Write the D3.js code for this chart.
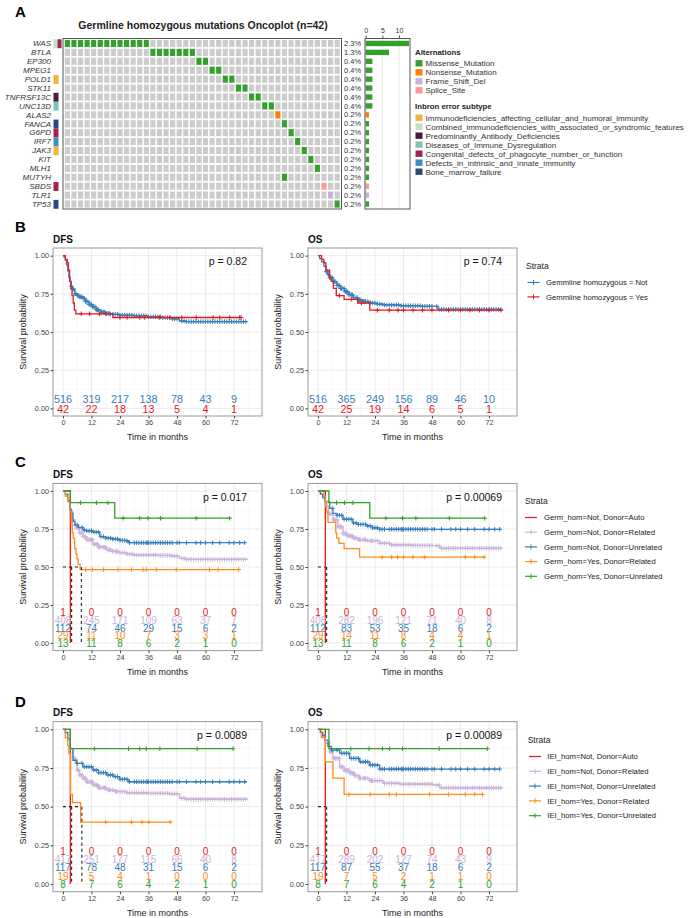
<!DOCTYPE html>
<html>
<head>
<meta charset="utf-8">
<script src="https://cdn.jsdelivr.net/npm/d3@7"></script>
<style>
body{margin:0;background:#fff}
text{font-family:"Liberation Sans",Arial,sans-serif}
</style>
</head>
<body>
<div id="chart"></div>
<script>
var w = 692
var h = 918

var svg = d3.select("#chart")
    .append("svg")
    .attr("width", w)
    .attr("height", h)

//oncoplot data

var genes = ["WAS","BTLA","EP300","MPEG1","POLD1","STK11","TNFRSF13C","UNC13D","ALAS2","FANCA","G6PD","IRF7","JAK3","KIT","MLH1","MUTYH","SBDS","TLR1","TP53"]
var genePct = ["2.3%","1.3%","0.4%","0.4%","0.4%","0.4%","0.4%","0.4%","0.2%","0.2%","0.2%","0.2%","0.2%","0.2%","0.2%","0.2%","0.2%","0.2%","0.2%"]
var geneCount = [13,7,2,2,2,2,2,2,1,1,1,1,1,1,1,1,1,1,1]
var geneType = ["Missense_Mutation","Missense_Mutation","Missense_Mutation","Missense_Mutation","Missense_Mutation","Missense_Mutation","Missense_Mutation","Missense_Mutation","Nonsense_Mutation","Missense_Mutation","Missense_Mutation","Missense_Mutation","Missense_Mutation","Missense_Mutation","Missense_Mutation","Missense_Mutation","Splice_Site","Frame_Shift_Del","Missense_Mutation"]
var geneSamples = [[0,1,2,3,4,5,6,7,8,9,10,11,12],[13,14,15,16,17,18,19],[20,21],[22,23],[24,25],[26,27],[28,29],[30,31],[32],[33],[34],[35],[36],[37],[38],[33],[39],[40],[41]]
var nSamples = 42
var geneSubtype = [
    ["Combined_immunodeficiencies_with_associated_or_syndromic_features","Congenital_defects_of_phagocyte_number_or_function"],
    [],[],[],
    ["Immunodeficiencies_affecting_cellular_and_humoral_immunity"],
    [],
    ["Predominantly_Antibody_Deficiencies"],
    ["Diseases_of_Immune_Dysregulation"],
    [],
    ["Bone_marrow_failure"],
    ["Congenital_defects_of_phagocyte_number_or_function"],
    ["Defects_in_intrinsic_and_innate_immunity"],
    ["Immunodeficiencies_affecting_cellular_and_humoral_immunity"],
    [],[],[],
    ["Congenital_defects_of_phagocyte_number_or_function"],
    [],
    ["Bone_marrow_failure"]]

var altTypes = ["Missense_Mutation","Nonsense_Mutation","Frame_Shift_Del","Splice_Site"]
var altColors = ["#33A02C","#FF7F00","#CAB2D6","#FB9A99"]
var ieiTypes = ["Immunodeficiencies_affecting_cellular_and_humoral_immunity","Combined_immunodeficiencies_with_associated_or_syndromic_features","Predominantly_Antibody_Deficiencies","Diseases_of_Immune_Dysregulation","Congenital_defects_of_phagocyte_number_or_function","Defects_in_intrinsic_and_innate_immunity","Bone_marrow_failure"]
var ieiColors = ["#F2B43A","#C4E0C4","#4A1C3E","#7DC6B6","#A3224A","#3D8EB9","#2B4A7B"]
var barTicks = [0,5,10]

//survival data: step points [month, survival] and censor times

var xTicks = [0,12,24,36,48,60,72]
var yTicks = [0,0.25,0.5,0.75,1]

var bDfsNot = [[0,1],[0.5,0.99],[1,0.97],[1.5,0.94],[2,0.9],[2.5,0.86],[3,0.83],[3.5,0.8],[4,0.78],[5,0.75],[6,0.74],[7,0.73],[8.4,0.72],[9.5,0.7],[11,0.68],[12.5,0.665],[14,0.645],[16,0.63],[18,0.622],[19.7,0.616],[24,0.61],[30,0.606],[36,0.6],[42,0.594],[46,0.586],[49,0.572],[52,0.568],[77,0.568]]
var bDfsYes = [[0,1],[1,0.976],[1.8,0.952],[2.3,0.905],[2.8,0.833],[3.3,0.786],[3.8,0.738],[4.3,0.69],[4.8,0.643],[5.4,0.619],[21,0.595],[75,0.595]]
var bOsNot = [[0,1],[0.7,0.98],[1.5,0.96],[2.5,0.93],[3.5,0.895],[4.2,0.874],[5,0.855],[6.3,0.83],[8,0.805],[9.5,0.785],[11.2,0.764],[13,0.745],[15,0.725],[16.8,0.71],[19,0.7],[22,0.69],[25,0.682],[27.4,0.677],[35,0.672],[44,0.668],[50.5,0.648],[77,0.648]]
var bOsYes = [[0,1],[1.5,0.976],[2.5,0.952],[3.3,0.905],[4.9,0.857],[5.5,0.833],[6.5,0.786],[7.7,0.738],[11,0.714],[16.7,0.69],[21.8,0.643],[77,0.643]]
var bCensNot = [3.5,4,4.5,5,5.5,6,6.5,7,7.5,8,8.5,9,9.5,10,10.5,11,11.5,12,12.5,13,13.5,14,14.5,15,16,16.5,17,17.5,18,19,19.5,20,21,22,23,24,25,26,27,28,29,30,31,32,33,34,35,36,37,38,39,40,41,42,43,44,45,46,47,48,50,51,52,53,54,55,56,57,58,59,60,61,62,63,64,65,66,67,68,69,70,71,72,73,74,75,76,77]
var bCensDfsYes = [7.7,11.2,15.4,18.2,24,27,32.3,34.4,40.7,45,50,56.1,63.2,66,70.2,74.4,75]
var bCensOsYes = [9,14,18.3,25,30,33.7,36,40,44,48,55,60,64,68,72,77]

var auto = [[0,1],[3.1,0]]
var cDfsNotRel = [[0,1],[1,0.975],[2,0.93],[3,0.87],[4,0.81],[5,0.775],[5.6,0.755],[7,0.725],[8.4,0.7],[10,0.68],[12.6,0.65],[15,0.63],[18.3,0.612],[21,0.602],[23.9,0.594],[27,0.585],[29.5,0.579],[40,0.576],[46,0.572],[49,0.557],[52,0.55],[77,0.55]]
var cDfsNotUnrel = [[0,1],[1,0.98],[2,0.94],[3,0.88],[3.5,0.855],[4.2,0.8],[5,0.775],[6.5,0.76],[8.4,0.743],[10,0.738],[12.6,0.73],[15.5,0.7],[18,0.69],[21,0.684],[24,0.675],[26.7,0.671],[27.5,0.66],[76.5,0.66]]
var cDfsYesRel = [[0,1],[1,0.966],[2,0.931],[3,0.862],[3.5,0.793],[3.9,0.724],[4.3,0.69],[4.9,0.621],[5.5,0.586],[5.9,0.552],[6.4,0.517],[7.2,0.483],[74,0.483]]
var cDfsYesUnrel = [[0,1],[3.1,0.923],[21.8,0.821],[70.2,0.821]]
var cOsNotRel = [[0,1],[1,0.98],[2,0.95],[3,0.9],[4.5,0.85],[6.3,0.81],[8.4,0.765],[10.5,0.72],[12.5,0.705],[14.7,0.69],[17,0.68],[20.4,0.673],[26,0.656],[30.2,0.645],[40,0.642],[48.5,0.64],[51.3,0.623],[77,0.623]]
var cOsNotUnrel = [[0,1],[1,0.98],[2,0.96],[3,0.93],[4.9,0.886],[6.3,0.853],[8,0.84],[10.5,0.814],[14.7,0.79],[17,0.78],[20.4,0.77],[23,0.758],[26,0.748],[77,0.748]]
var cOsYesRel = [[0,1],[2.5,0.966],[3.2,0.931],[3.7,0.862],[4.2,0.793],[7.5,0.724],[7.9,0.69],[8.8,0.655],[11,0.621],[17.5,0.565],[70,0.565]]
var cOsYesUnrel = [[0,1],[4.6,0.923],[21.8,0.821],[70.2,0.821]]

var dDfsNotRel = [[0,1],[1,0.975],[2,0.93],[3,0.87],[4.2,0.82],[4.9,0.8],[5.9,0.737],[7,0.705],[8.4,0.683],[10,0.66],[12.6,0.64],[15,0.622],[18.3,0.608],[22,0.598],[26.7,0.59],[35.1,0.586],[45,0.583],[49.1,0.554],[52,0.548],[77.5,0.548]]
var dDfsNotUnrel = [[0,1],[1,0.98],[2,0.94],[3.1,0.877],[4.2,0.8],[5.6,0.78],[8.4,0.758],[12.6,0.737],[15,0.72],[18.3,0.705],[21.1,0.694],[23.9,0.677],[27.4,0.661],[77.5,0.661]]
var dDfsYesRel = [[0,1],[1,0.947],[2,0.895],[2.5,0.842],[3.2,0.579],[4,0.526],[7.4,0.4],[45.2,0.4]]
var dDfsYesUnrel = [[0,1],[3.1,0.875],[71.6,0.875]]
var dOsNotRel = [[0,1],[1,0.98],[2,0.95],[3,0.91],[4.9,0.855],[6.3,0.812],[9.1,0.758],[11,0.735],[13.3,0.716],[15.5,0.7],[17.5,0.683],[21.8,0.668],[27.4,0.651],[34.4,0.646],[48.5,0.64],[51.3,0.622],[77.5,0.622]]
var dOsNotUnrel = [[0,1],[1,0.98],[2,0.96],[3,0.93],[4.2,0.89],[5.6,0.866],[9.1,0.845],[13.3,0.812],[17.5,0.79],[21.8,0.769],[26,0.743],[76.5,0.743]]
var dOsYesRel = [[0,1],[1.4,0.947],[3.1,0.789],[6.3,0.684],[11,0.579],[69.2,0.579]]
var dOsYesUnrel = [[0,1],[4.6,0.875],[71.3,0.875]]

var censNotRel = [4.5,5,5.5,6,6.5,7,7.5,8,8.5,9,9.5,10,10.5,11,11.5,12,12.5,13,13.5,14,14.5,15,15.5,16,17,17.5,18,19,19.5,20,21,22,22.5,23,24,25,26,27,28,29,30,31,32,33,34,35,36,37,38,39,40,41,42,43,44,45,46,47,48,50,51,52,53,54,55,56,57,58,59,60,61,62,63,64,65,66,67,68,69,70,71,72,73,74,75,76,77]
var censNotUnrel = [6,8,9,10,11,12,13,14,15,16,17,18,19,20,21,22,23,24,25,26,27,28,30,31,32,33,34,35,35.5,36,37,38,39,40,41,42,43,44,45,46,48,49,52,56,58,60,63,66,70,72,74.4,76.5]
var censYesRel = [9.6,12.4,17.1,23.2,28.8,33.7,35.1,39.3,47.7,61.7,65.3,74]
var censYesUnrel = [7.4,14.1,18.9,25.3,32.3,35.8,41.1,56.1,70.2]
var censOsYesRel = [27,31,33.5,36,40,45,62,66,70]
var censOsYesUnrel = [7.8,11.2,14.7,28.6,35.6,41.2,55.3,70.2]
var censDYesRel = [18,28.8,33.3,36.2,45.2]
var censDYesUnrel = [13.3,27.6,32.3,35.1,40.8,56.5,71.6]
var censDOsYesRel = [13,22,30,33,47,55,62,66,69.2]
var censDOsYesUnrel = [13.8,21.5,27.2,30.1,35.6,51,71.3]

var bDfsRisk = [[516,319,217,138,78,43,9],[42,22,18,13,5,4,1]]
var bOsRisk = [[516,365,249,156,89,46,10],[42,25,19,14,6,5,1]]
var cDfsRisk = [[1,0,0,0,0,0,0],[408,245,171,109,63,37,7],[112,74,46,29,15,6,2],[29,11,10,7,3,3,1],[13,11,8,6,2,1,0]]
var cOsRisk = [[1,0,0,0,0,0,0],[408,282,196,121,71,40,8],[112,83,53,35,18,6,2],[29,14,11,8,4,4,1],[13,11,8,6,2,1,0]]
var dDfsRisk = [[1,0,0,0,0,0,0],[417,251,177,115,66,40,8],[117,78,48,31,15,6,2],[19,5,4,1,0,0,0],[8,7,6,4,2,1,0]]
var dOsRisk = [[1,0,0,0,0,0,0],[417,289,202,127,74,43,9],[117,87,55,37,18,6,2],[19,7,5,2,1,1,0],[8,7,6,4,2,1,0]]

var bLabels = ["Gemmline homozygous = Not","Gemmline homozygous = Yes"]
var cLabels = ["Germ_hom=Not, Donor=Auto","Germ_hom=Not, Donor=Related","Germ_hom=Not, Donor=Unrelated","Germ_hom=Yes, Donor=Related","Germ_hom=Yes, Donor=Unrelated"]
var dLabels = ["IEI_hom=Not, Donor=Auto","IEI_hom=Not, Donor=Related","IEI_hom=Not, Donor=Unrelated","IEI_hom=Yes, Donor=Related","IEI_hom=Yes, Donor=Unrelated"]

var red = "#E41A1C", lav = "#C9B3DA", blue = "#377EB8", orange = "#FF8C1A", green = "#33A02C"

//panel A - oncoplot

drawOncoplot()

function drawOncoplot(){
    var gridLeft = 64, gridRight = 340.5, gridTop = 39, gridBottom = 208.5

    var xCol = d3.scaleBand().domain(d3.range(nSamples)).range([gridLeft, gridRight]).paddingInner(0.22).paddingOuter(0.12)
    var yRow = d3.scaleBand().domain(genes).range([gridTop, gridBottom]).paddingInner(0.2).paddingOuter(0.1)
    var altColor = d3.scaleOrdinal().domain(altTypes).range(altColors)
    var ieiColor = d3.scaleOrdinal().domain(ieiTypes).range(ieiColors)

    svg.append("text").attr("x", 15).attr("y", 17).text("A")
        .attr("font-size", 15).attr("font-weight", "bold")

    svg.append("text").attr("x", 203).attr("y", 28.5).text("Germline homozygous mutations Oncoplot (n=42)")
        .attr("font-size", 10.5).attr("font-weight", "bold").attr("text-anchor", "middle").attr("fill", "#222")

    var rows = svg.selectAll(".orow")
        .data(genes)
        .enter()
        .append("g")
        .attr("class", "orow")

    rows.selectAll("rect")
        .data(function(d, i){
            return d3.range(nSamples).map(function(s){
                return {gene: d, s: s, type: geneSamples[i].indexOf(s) >= 0 ? geneType[i] : null}
            })
        })
        .enter()
        .append("rect")
        .attr("x", function(d){ return xCol(d.s) })
        .attr("y", function(d){ return yRow(d.gene) })
        .attr("width", xCol.bandwidth())
        .attr("height", yRow.bandwidth())
        .attr("fill", function(d){ return d.type ? altColor(d.type) : "#CCCCCC" })

    svg.append("rect")
        .attr("x", gridLeft - 1).attr("y", gridTop - 0.5)
        .attr("width", gridRight - gridLeft + 2).attr("height", gridBottom - gridTop + 1)
        .attr("fill", "none").attr("stroke", "#555").attr("stroke-width", 1)

    //gene names
    svg.selectAll(".gname")
        .data(genes)
        .enter()
        .append("text")
        .attr("class", "gname")
        .attr("x", 51)
        .attr("y", function(d){ return yRow(d) + yRow.bandwidth()/2 })
        .attr("dy", "0.35em")
        .attr("text-anchor", "end")
        .attr("font-size", 8)
        .attr("font-style", "italic")
        .attr("fill", "#333")
        .text(function(d){ return d })

    //subtype annotation
    genes.forEach(function(g, i){
        var subs = geneSubtype[i]
        subs.forEach(function(s, k){
            svg.append("rect")
                .attr("x", subs.length > 1 ? 53.5 + k*4 : 53.5)
                .attr("y", yRow(g) - 0.6)
                .attr("width", subs.length > 1 ? 4 : 5)
                .attr("height", yRow.step())
                .attr("fill", ieiColor(s))
        })
    })

    //percent labels
    svg.selectAll(".gpct")
        .data(genePct)
        .enter()
        .append("text")
        .attr("x", 344)
        .attr("y", function(d, i){ return yRow(genes[i]) + yRow.bandwidth()/2 })
        .attr("dy", "0.35em")
        .attr("font-size", 7.5)
        .attr("fill", "#333")
        .text(function(d){ return d })

    //side bar plot
    var xBar = d3.scaleLinear().domain([0, 13.3]).range([365.7, 410])
    svg.selectAll(".bgrid")
        .data(barTicks)
        .enter()
        .append("line")
        .attr("x1", function(d){ return xBar(d) }).attr("x2", function(d){ return xBar(d) })
        .attr("y1", gridTop).attr("y2", gridBottom)
        .attr("stroke", "#DDD").attr("stroke-width", 0.7)

    svg.selectAll(".gbar")
        .data(geneCount)
        .enter()
        .append("rect")
        .attr("x", xBar(0))
        .attr("y", function(d, i){ return yRow(genes[i]) + yRow.bandwidth()*0.12 })
        .attr("width", function(d){ return xBar(d) - xBar(0) })
        .attr("height", yRow.bandwidth()*0.76)
        .attr("fill", function(d, i){ return altColor(geneType[i]) })

    svg.append("rect")
        .attr("x", 365).attr("y", gridTop - 0.5)
        .attr("width", 45).attr("height", gridBottom - gridTop + 1)
        .attr("fill", "none").attr("stroke", "#555").attr("stroke-width", 1)

    var barAxis = svg.append("g")
        .attr("transform", "translate(0," + (gridTop - 1) + ")")
        .call(d3.axisTop(xBar).tickValues(barTicks).tickSize(2.5))
    barAxis.select(".domain").remove()
    barAxis.selectAll("text").attr("font-size", 7).attr("fill", "#333").attr("font-family", "Liberation Sans")
    barAxis.selectAll("line").attr("stroke", "#555")

    //legends
    svg.append("text").attr("x", 415).attr("y", 54.5).text("Alternations")
        .attr("font-size", 7.8).attr("font-weight", "bold").attr("fill", "#222")
    altTypes.forEach(function(t, i){
        var yy = 63.3 + i*9
        svg.append("rect").attr("x", 415.5).attr("y", yy - 3.2).attr("width", 7).attr("height", 6.4).attr("fill", altColor(t))
        svg.append("text").attr("x", 425.5).attr("y", yy).attr("dy", "0.35em").text(t)
            .attr("font-size", 8).attr("fill", "#333")
    })
    svg.append("text").attr("x", 415).attr("y", 108.8).text("Inbron error subtype")
        .attr("font-size", 7.8).attr("font-weight", "bold").attr("fill", "#222")
    ieiTypes.forEach(function(t, i){
        var yy = 117.7 + i*9
        svg.append("rect").attr("x", 415.5).attr("y", yy - 3.2).attr("width", 7).attr("height", 6.4).attr("fill", ieiColor(t))
        svg.append("text").attr("x", 425.5).attr("y", yy).attr("dy", "0.35em").text(t)
            .attr("font-size", 8).attr("fill", "#333")
    })
}

//KM panels

function survAt(data, t){
    var s = data[0][1]
    data.forEach(function(p){ if(p[0] <= t) s = p[1] })
    return s
}

function drawKM(left, top, height, title, curves, risk, rowStep, riskSize, pText){
    var x = d3.scaleLinear().domain([-4.2, 83.8]).range([left, left + 209])
    var y = d3.scaleLinear().domain([-0.05, 1.05]).range([top + height, top])
    var g = svg.append("g")

    //grid
    g.selectAll(".mx").data([6,18,30,42,54,66,78]).enter().append("line")
        .attr("x1", function(d){ return x(d) }).attr("x2", function(d){ return x(d) })
        .attr("y1", top).attr("y2", top + height)
        .attr("stroke", "#F2F2F2").attr("stroke-width", 0.6)
    g.selectAll(".my").data([0.125,0.375,0.625,0.875]).enter().append("line")
        .attr("y1", function(d){ return y(d) }).attr("y2", function(d){ return y(d) })
        .attr("x1", left).attr("x2", left + 209)
        .attr("stroke", "#F2F2F2").attr("stroke-width", 0.6)
    g.selectAll(".gx").data(xTicks).enter().append("line")
        .attr("x1", function(d){ return x(d) }).attr("x2", function(d){ return x(d) })
        .attr("y1", top).attr("y2", top + height)
        .attr("stroke", "#E8E8E8").attr("stroke-width", 0.9)
    g.selectAll(".gy").data(yTicks).enter().append("line")
        .attr("y1", function(d){ return y(d) }).attr("y2", function(d){ return y(d) })
        .attr("x1", left).attr("x2", left + 209)
        .attr("stroke", "#E8E8E8").attr("stroke-width", 0.9)

    var line = d3.line()
        .x(function(d){ return x(d[0]) })
        .y(function(d){ return y(d[1]) })
        .curve(d3.curveStepAfter)

    curves.forEach(function(c){
        g.append("path")
            .attr("d", line(c.data))
            .attr("fill", "none")
            .attr("stroke", c.color)
            .attr("stroke-width", 1.3)
        var end = c.data[c.data.length - 1][0]
        c.cens.filter(function(t){ return t <= end }).forEach(function(t){
            var cx = x(t), cy = y(survAt(c.data, t))
            g.append("path")
                .attr("d", "M" + (cx - 2.3) + "," + cy + "H" + (cx + 2.3) + "M" + cx + "," + (cy - 2.3) + "V" + (cy + 2.3))
                .attr("stroke", c.color)
                .attr("stroke-width", 1)
        })
    })

    //median lines
    var medians = []
    curves.forEach(function(c){
        var m = c.data.find(function(p){ return p[1] <= 0.5 })
        if(m) medians.push(m[0])
    })
    if(medians.length){
        g.append("line")
            .attr("x1", x(0)).attr("x2", x(d3.max(medians)))
            .attr("y1", y(0.5)).attr("y2", y(0.5))
            .attr("stroke", "#222").attr("stroke-width", 1.1).attr("stroke-dasharray", "3,3")
        medians.forEach(function(m){
            g.append("line")
                .attr("x1", x(m) + 1.3).attr("x2", x(m) + 1.3)
                .attr("y1", y(0.5)).attr("y2", y(0))
                .attr("stroke", "#222").attr("stroke-width", 1.1).attr("stroke-dasharray", "3,3")
        })
    }

    //numbers at risk
    risk.forEach(function(row, r){
        var yy = y(0) + 0.5 - (risk.length - 1 - r)*rowStep
        g.selectAll(".risk" + r)
            .data(row)
            .enter()
            .append("text")
            .attr("x", function(d, i){ return x(xTicks[i]) })
            .attr("y", yy)
            .attr("dy", "0.36em")
            .attr("text-anchor", "middle")
            .attr("font-size", riskSize)
            .attr("fill", curves[r].color)
            .text(function(d){ return d })
    })

    g.append("text")
        .attr("x", x(77.5)).attr("y", y(0.96)).attr("dy", "0.35em")
        .attr("text-anchor", "end").attr("font-size", 10.5).attr("fill", "#111")
        .text(pText)

    g.append("rect")
        .attr("x", left).attr("y", top).attr("width", 209).attr("height", height)
        .attr("fill", "none").attr("stroke", "#999").attr("stroke-width", 1)

    var ya = g.append("g").attr("transform", "translate(" + left + ",0)")
        .call(d3.axisLeft(y).tickValues(yTicks).tickFormat(d3.format(".2f")).tickSize(2.5).tickPadding(1.5))
    ya.select(".domain").remove()
    ya.selectAll("text").attr("font-size", 7.3).attr("fill", "#444").attr("font-family", "Liberation Sans")
    ya.selectAll("line").attr("stroke", "#444")

    var xa = g.append("g").attr("transform", "translate(0," + (top + height) + ")")
        .call(d3.axisBottom(x).tickValues(xTicks).tickSize(2.5).tickPadding(1.5))
    xa.select(".domain").remove()
    xa.selectAll("text").attr("font-size", 7.3).attr("fill", "#444").attr("font-family", "Liberation Sans")
    xa.selectAll("line").attr("stroke", "#444")

    g.append("text")
        .attr("x", left + 104.5).attr("y", top + height + 24)
        .attr("text-anchor", "middle").attr("font-size", 9).attr("fill", "#222")
        .text("Time in months")

    g.append("text")
        .attr("transform", "translate(" + (left - 27) + "," + (top + height/2) + ") rotate(-90)")
        .attr("text-anchor", "middle").attr("font-size", 9).attr("fill", "#222")
        .text("Survival probability")

    g.append("text")
        .attr("x", left).attr("y", top - 5.5)
        .attr("font-size", 10).attr("font-weight", "bold").attr("fill", "#111")
        .text(title)
}

function drawLegend(x0, y0, step, lineX, textX, labels, colors, crosses){
    svg.append("text").attr("x", x0).attr("y", y0).attr("dy", "0.35em")
        .attr("font-size", 8.5).attr("fill", "#222").text("Strata")
    labels.forEach(function(l, i){
        var yy = y0 + 16.5 + i*step
        svg.append("line").attr("x1", lineX).attr("x2", lineX + 12).attr("y1", yy).attr("y2", yy)
            .attr("stroke", colors[i]).attr("stroke-width", 1.2)
        if(crosses[i]){
            svg.append("line").attr("x1", lineX + 6).attr("x2", lineX + 6).attr("y1", yy - 2.5).attr("y2", yy + 2.5)
                .attr("stroke", colors[i]).attr("stroke-width", 1)
        }
        svg.append("text").attr("x", textX).attr("y", yy).attr("dy", "0.35em")
            .attr("font-size", 7.7).attr("fill", "#222").text(l)
    })
}

function panelLabel(t, yy){
    svg.append("text").attr("x", 15).attr("y", yy).text(t)
        .attr("font-size", 15).attr("font-weight", "bold")
}

var five = [red, lav, blue, orange, green]

//panel B
panelLabel("B", 232)
drawKM(53, 248, 168, "DFS",
    [{data: bDfsNot, cens: bCensNot, color: blue}, {data: bDfsYes, cens: bCensDfsYes, color: red}],
    bDfsRisk, 10, 10.8, "p = 0.82")
drawKM(308, 248, 168, "OS",
    [{data: bOsNot, cens: bCensNot, color: blue}, {data: bOsYes, cens: bCensOsYes, color: red}],
    bOsRisk, 10, 10.8, "p = 0.74")
drawLegend(526, 266, 14.4, 527.5, 546, bLabels, [blue, red], [true, true])

//panel C
panelLabel("C", 467)
drawKM(53, 483.4, 167.2, "DFS",
    [{data: auto, cens: [], color: red}, {data: cDfsNotRel, cens: censNotRel, color: lav},
     {data: cDfsNotUnrel, cens: censNotUnrel, color: blue}, {data: cDfsYesRel, cens: censYesRel, color: orange},
     {data: cDfsYesUnrel, cens: censYesUnrel, color: green}],
    cDfsRisk, 7.8, 10, "p = 0.017")
drawKM(308, 483.4, 167.2, "OS",
    [{data: auto, cens: [], color: red}, {data: cOsNotRel, cens: censNotRel, color: lav},
     {data: cOsNotUnrel, cens: censNotUnrel, color: blue}, {data: cOsYesRel, cens: censOsYesRel, color: orange},
     {data: cOsYesUnrel, cens: censOsYesUnrel, color: green}],
    cOsRisk, 7.8, 10, "p = 0.00069")
drawLegend(525, 501, 14.7, 525, 544, cLabels, five, [false, true, true, true, true])

//panel D
panelLabel("D", 707)
drawKM(53, 721.6, 170.1, "DFS",
    [{data: auto, cens: [], color: red}, {data: dDfsNotRel, cens: censNotRel, color: lav},
     {data: dDfsNotUnrel, cens: censNotUnrel, color: blue}, {data: dDfsYesRel, cens: censDYesRel, color: orange},
     {data: dDfsYesUnrel, cens: censDYesUnrel, color: green}],
    dDfsRisk, 8.3, 10, "p = 0.0089")
drawKM(308, 721.6, 170.1, "OS",
    [{data: auto, cens: [], color: red}, {data: dOsNotRel, cens: censNotRel, color: lav},
     {data: dOsNotUnrel, cens: censNotUnrel, color: blue}, {data: dOsYesRel, cens: censDOsYesRel, color: orange},
     {data: dOsYesUnrel, cens: censDOsYesUnrel, color: green}],
    dOsRisk, 8.3, 10, "p = 0.00089")
drawLegend(527.7, 740, 14.8, 529, 547.3, dLabels, five, [false, true, true, true, true])
</script>
</body>
</html>
